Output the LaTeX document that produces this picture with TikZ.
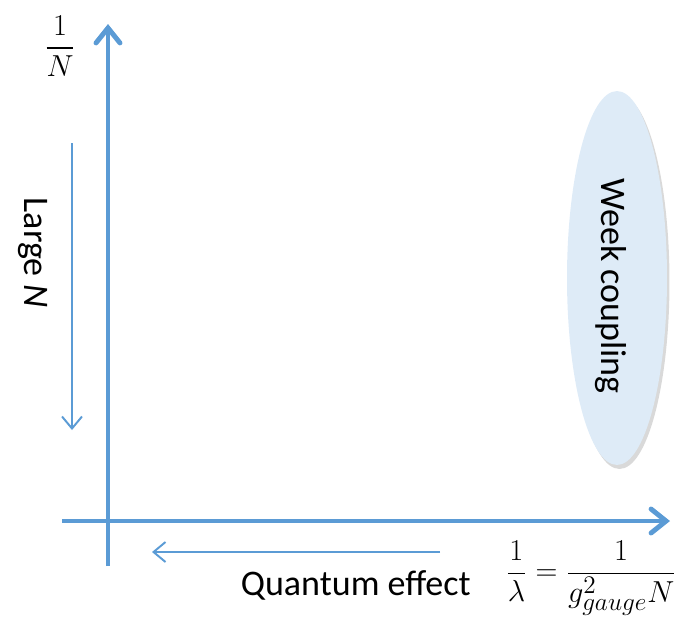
\documentclass[tikz,border=0pt]{standalone}
\usepackage{amsmath}
\usepackage[no-math]{fontspec}
\newfontfamily\carlito{Carlito}
\usetikzlibrary{positioning,arrows.meta,shapes.geometric,shadows}
\definecolor{axisblue}{RGB}{91,155,213}
\definecolor{ovalfill}{RGB}{222,235,247}
\tikzset{
  axis/.style={draw=axisblue,line width=2.8pt,-{Straight Barb[length=3mm,width=4.8mm,line cap=round]}},
  hint/.style={draw=axisblue,line width=1.1pt,-{Straight Barb[length=2.4mm,width=4mm]}},
  oval/.style={ellipse,fill=ovalfill,draw=none,minimum width=2cm,minimum height=7.48cm,
    drop shadow={opacity=0.3,shadow xshift=0.5mm,shadow yshift=-0.8mm}},
  words/.style={font=\carlito\fontsize{20.5}{24}\selectfont,inner sep=0pt},
  formula/.style={font=\fontsize{19}{23}\selectfont,inner sep=0pt}
}
\begin{document}
\begin{tikzpicture}[x=0.02cm,y=-0.02cm]
  \useasboundingbox (0,0) rectangle (683,616);
  % axes
  \coordinate (ybot) at (108,566);
  \coordinate (ytop) at (108,24);
  \coordinate (xleft) at (62,521);
  \coordinate (xright) at (670,521);
  \draw[axis] (ybot) -- (ytop);
  \draw[axis] (xleft) -- (xright);
  \node[formula] (invN) at (60,46) {$\dfrac{1}{N}$};
  \node[formula] (lambda) at (591,578) {$\dfrac{1}{\lambda}=\dfrac{1}{g^2_{gauge}N}$};

  % direction hints
  \coordinate (nstart) at (72,143);
  \coordinate (nend) at (72,430);
  \draw[hint] (nstart) -- (nend);
  \node[words,rotate=-90] (largeN) at (33,253) {Large \textit{N}};
  \coordinate (qstart) at (440,552);
  \coordinate (qend) at (152,552);
  \draw[hint] (qstart) -- (qend);
  \node[words,anchor=east] (quantum) at (471,585) {Quantum effect};

  % weak coupling region
  \node[oval] (weak) at (617,278) {};
  \node[words,rotate=-90] (weaktext) at (611,286) {Week coupling};
\end{tikzpicture}
\end{document}
